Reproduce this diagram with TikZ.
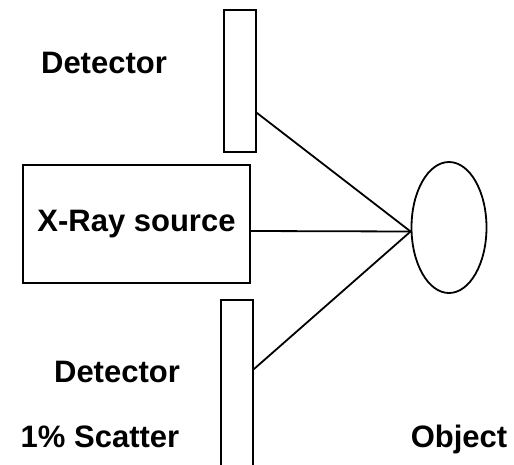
\documentclass[tikz,border=0pt]{standalone}
\usepackage{fontspec}
\setmainfont{Liberation Sans}
\usetikzlibrary{shapes,shapes.geometric,positioning}

\begin{document}
\begin{tikzpicture}[x=1pt,y=-1pt]
    \tikzset{
        label/.style = {inner sep=0pt, anchor=base, font=\fontsize{31}{37}\selectfont\bfseries},
        detector/.style = {rectangle, draw, line width=1.8pt, minimum width=32pt, inner sep=0pt},
        source/.style = {rectangle, draw, line width=1.8pt, minimum width=227pt, minimum height=118pt, inner sep=0pt, font=\fontsize{31}{37}\selectfont\bfseries},
        object/.style = {ellipse, draw, line width=1.8pt, minimum width=75pt, minimum height=131pt, inner sep=0pt},
        line/.style = {draw, line width=1.8pt},
    }
    \useasboundingbox (0,0) rectangle (514,464);
    \clip (0,0) rectangle (514,464);

    \node[detector, minimum height=142pt](dettop) at (240,81){};

    \node[detector, minimum height=180pt](detbot) at (237,390){};

    \node[source](src) at (136.5,224){X-Ray source};

    \node[object](obj) at (449,227.5){};

    \node[label](lbltop) at (104,73){Detector};
    \node[label](lblbot) at (117,382){Detector};
    \node[label](lblscat) at (100,447){1\% Scatter};
    \node[label](lblobj) at (459,447){Object};

    \path [line] ([yshift=40pt]dettop.south east) -- ([yshift=-4pt]obj.west);
    \path [line] ([yshift=-7pt]src.east) -- ([yshift=-4pt]obj.west);
    \path [line] ([yshift=-70pt]detbot.north east) -- ([yshift=-4pt]obj.west);

\end{tikzpicture}
\end{document}
